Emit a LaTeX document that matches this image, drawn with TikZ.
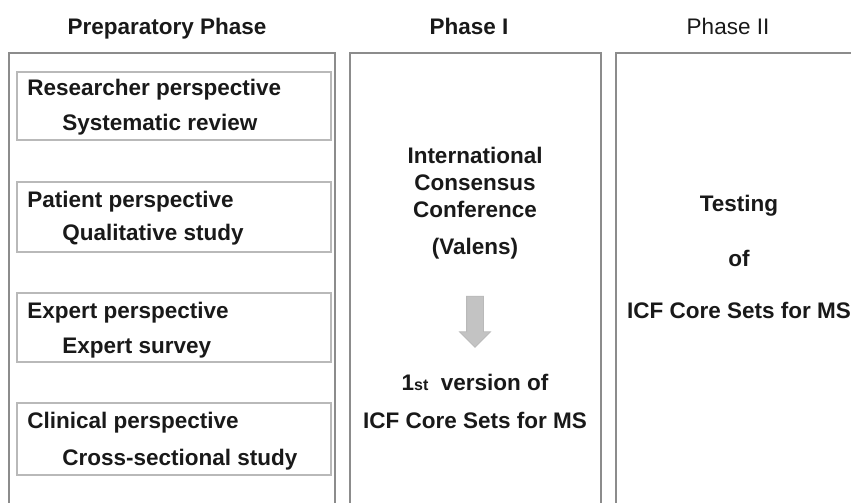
\documentclass[tikz,border=0pt]{standalone}
\usepackage{fontspec}
\setmainfont{Liberation Sans}
\usetikzlibrary{shapes.arrows}

\definecolor{frameGray}{RGB}{140,140,140}
\definecolor{boxGray}{RGB}{185,185,185}
\definecolor{arrowGray}{RGB}{195,195,195}
\definecolor{inkGray}{RGB}{25,25,25}

\tikzset{
  txt/.style={inner sep=0pt, text=inkGray, font=\fontsize{11.25}{13}\selectfont\bfseries},
  head/.style={txt, anchor=base},
  line/.style={txt, anchor=base west},
  frame/.style={draw=frameGray, line width=1pt},
  panel/.style={draw=boxGray, line width=0.8pt},
  flow/.style={single arrow, rotate=-90, draw=boxGray, fill=arrowGray, inner sep=4pt,
    minimum height=25.5pt, single arrow head extend=3.5pt, single arrow head indent=0pt},
}

\begin{document}
\begin{tikzpicture}[x=0.5pt, y=-0.5pt]
  \useasboundingbox (0,0) rectangle (851,503);
  \clip (0,0) rectangle (851,503);

  % column titles
  \node[head] (tprep) at (167,34) {Preparatory Phase};
  \node[head] (tone) at (469,34) {Phase I};
  \node[head, font=\fontsize{11.25}{13}\selectfont\mdseries] (ttwo) at (728,34) {Phase II};

  % the three columns (open at the bottom)
  \draw[frame] (9,53) rectangle (335,520);
  \draw[frame] (350,53) rectangle (601,520);
  \draw[frame] (616,53) rectangle (880,520);

  % preparatory phase: four perspectives
  \draw[panel] (17,72) rectangle (331,140);
  \node[line] (res) at (27,95) {Researcher perspective};
  \node[line] (sys) at (62,130) {Systematic review};

  \draw[panel] (17,182) rectangle (331,252);
  \node[line] (pat) at (27,207) {Patient perspective};
  \node[line] (qual) at (62,240) {Qualitative study};

  \draw[panel] (17,293) rectangle (331,362);
  \node[line] (exp) at (27,318) {Expert perspective};
  \node[line] (surv) at (62,353) {Expert survey};

  \draw[panel] (17,403) rectangle (331,475);
  \node[line] (clin) at (27,428) {Clinical perspective};
  \node[line] (cross) at (62,465) {Cross-sectional study};

  % phase I
  \node[head] (intl) at (475,163) {International};
  \node[head] (cons) at (475,190) {Consensus};
  \node[head] (conf) at (475,217) {Conference};
  \node[head] (val) at (475,254) {(Valens)};
  \node[flow] (flw) at (475,317.5) {};
  \node[head] (vers) at (475,390) {1{\fontsize{8}{8}\selectfont st}\ \ version of};
  \node[head] (core) at (475,428) {ICF Core Sets for MS};

  % phase II
  \node[head] (test) at (739,211) {Testing};
  \node[head] (of) at (739,266) {of};
  \node[head] (coretwo) at (739,318) {ICF Core Sets for MS};
\end{tikzpicture}
\end{document}
